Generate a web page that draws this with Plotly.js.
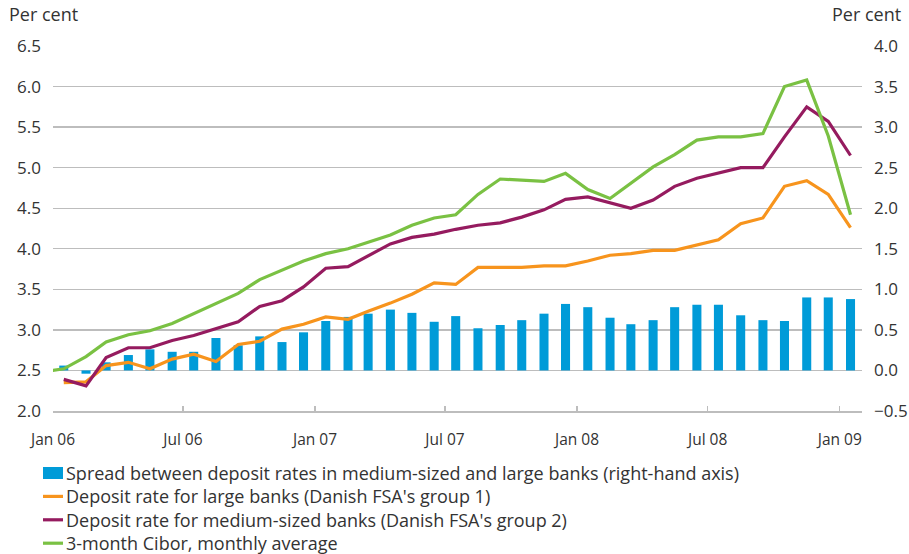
<!DOCTYPE html>
<html>
<head>
<meta charset="utf-8">
<script src="https://cdn.plot.ly/plotly-3.0.1.min.js"></script>
<style>html,body{margin:0;padding:0;background:#fff;}#chart{width:909px;height:554px;}</style>
</head>
<body>
<div id="chart"></div>
<script>
// Months (Jan 06 .. Jan 09)
const months = ['2006-01','2006-02','2006-03','2006-04','2006-05','2006-06','2006-07','2006-08','2006-09','2006-10','2006-11','2006-12',
                '2007-01','2007-02','2007-03','2007-04','2007-05','2007-06','2007-07','2007-08','2007-09','2007-10','2007-11','2007-12',
                '2008-01','2008-02','2008-03','2008-04','2008-05','2008-06','2008-07','2008-08','2008-09','2008-10','2008-11','2008-12',
                '2009-01'];
// Spread (right-hand axis), percentage points
const spread = [0.06,-0.04,0.10,0.19,0.26,0.23,0.23,0.40,0.31,0.42,0.35,0.47,
                0.61,0.66,0.70,0.75,0.71,0.60,0.67,0.52,0.56,0.62,0.70,0.82,
                0.78,0.65,0.57,0.62,0.78,0.81,0.81,0.68,0.62,0.61,0.90,0.90,
                0.88];
// Deposit rate for large banks (group 1)
const largeBanks = [2.35,2.36,2.56,2.60,2.52,2.64,2.70,2.61,2.82,2.86,3.01,3.07,
                    3.16,3.13,3.23,3.33,3.44,3.58,3.56,3.77,3.77,3.77,3.79,3.79,
                    3.85,3.92,3.94,3.98,3.98,4.05,4.11,4.31,4.38,4.77,4.84,4.67,
                    4.26];
// Deposit rate for medium-sized banks (group 2)
const mediumBanks = [2.39,2.31,2.66,2.78,2.78,2.87,2.93,3.01,3.10,3.29,3.36,3.53,
                     3.76,3.78,3.91,4.06,4.14,4.18,4.24,4.29,4.32,4.39,4.48,4.61,
                     4.64,4.57,4.50,4.60,4.77,4.87,4.93,5.00,5.00,5.38,5.75,5.57,
                     5.15];
// 3-month Cibor, monthly average (starts Dec 05, off the left edge)
const ciborMonths = ['2005-12'].concat(months);
const cibor = [2.48,
               2.52,2.67,2.85,2.94,2.99,3.08,3.20,3.33,3.45,3.62,3.74,3.85,
               3.94,4.00,4.08,4.17,4.29,4.38,4.42,4.67,4.86,4.85,4.83,4.93,
               4.73,4.62,4.81,5.01,5.16,5.34,5.38,5.38,5.42,6.00,6.08,5.39,
               4.42];
const tickDates = ['2006-01-01','2006-07-01','2007-01-01','2007-07-01','2008-01-01','2008-07-01','2009-01-01'];
const tickLabels = ['Jan 06','Jul 06','Jan 07','Jul 07','Jan 08','Jul 08','Jan 09'];
const seriesNames = ['Spread between deposit rates in medium-sized and large banks (right-hand axis)',
                     "Deposit rate for large banks (Danish FSA's group 1)",
                     "Deposit rate for medium-sized banks (Danish FSA's group 2)",
                     '3-month Cibor, monthly average'];
const seriesColors = ['#009bd8','#f7941d','#951b5f','#7ac143'];

const mid = m => m + '-16';
const FONT = 'Open Sans, Noto Sans, sans-serif';
const TXT = '#333333';
const GRID = '#bdbdbd';

// plot-area geometry (px) for placing the legend/annotations
const L = 53, R = 47, T = 46, B = 143, W = 909 - L - R, H = 554 - T - B;
const px = x => (x - L) / W;
const py = y => (554 - B - y) / H;

const traces = [
  {type:'bar', name:seriesNames[0], x: months.map(mid), y: spread, yaxis:'y',
   marker:{color:seriesColors[0]}, width: 12.6*86400000},
  {type:'scatter', mode:'lines', name:seriesNames[1], x: months.map(mid), y: largeBanks, yaxis:'y2',
   line:{color:seriesColors[1], width:3.2}},
  {type:'scatter', mode:'lines', name:seriesNames[2], x: months.map(mid), y: mediumBanks, yaxis:'y2',
   line:{color:seriesColors[2], width:3.2}},
  {type:'scatter', mode:'lines', name:seriesNames[3], x: ciborMonths.map(mid), y: cibor, yaxis:'y2',
   line:{color:seriesColors[3], width:3.2}}
];

// manual legend: one multi-line text block with swatches beside each row
const LEG_FONT = 18;
const rowGap = LEG_FONT * 1.3;
const row0 = 473;
const rowY = [0, 1, 2, 3].map(i => row0 + i * rowGap);
const shapes = [
  {type:'rect', xref:'paper', yref:'paper', x0:px(43), x1:px(63), y0:py(rowY[0]+6), y1:py(rowY[0]-6),
   fillcolor:seriesColors[0], line:{width:0}}
];
for (let i = 1; i < 4; i++) {
  shapes.push({type:'line', xref:'paper', yref:'paper', x0:px(43), x1:px(63), y0:py(rowY[i]), y1:py(rowY[i]),
               line:{color:seriesColors[i], width:3.2}});
}
const annotations = [
  {text:'Per cent', xref:'paper', yref:'paper', x:px(7), y:py(14), xanchor:'left', yanchor:'middle',
   showarrow:false, font:{family:FONT, size:18, color:TXT}},
  {text:'Per cent', xref:'paper', yref:'paper', x:px(903), y:py(14), xanchor:'right', yanchor:'middle',
   showarrow:false, font:{family:FONT, size:18, color:TXT}},
  {text:seriesNames.join('<br>'), xref:'paper', yref:'paper', x:px(65), y:py((rowY[0]+rowY[3])/2),
   xanchor:'left', yanchor:'middle', align:'left', showarrow:false, borderpad:0,
   font:{family:FONT, size:LEG_FONT, color:TXT}}
];

const layout = {
  width:909, height:554,
  margin:{l:L, r:R, t:T, b:B, autoexpand:false},
  paper_bgcolor:'#fff', plot_bgcolor:'#fff',
  font:{family:FONT, size:16, color:TXT},
  showlegend:false,
  xaxis:{type:'date', range:['2006-01-01','2009-02-01'], tickmode:'array',
         tickvals:tickDates, ticktext:tickLabels, ticks:'inside', ticklen:5, tickcolor:GRID, tickwidth:1.3,
         showgrid:false, showline:true, linecolor:GRID, linewidth:1.5, zeroline:false,
         ticklabelstandoff:14, tickfont:{family:FONT, size:15.5, color:TXT}},
  yaxis:{side:'right', range:[-0.5,4.0], dtick:0.5, tick0:0, tickformat:'.1f',
         showgrid:false, zeroline:false, ticks:'', ticklabelstandoff:11,
         tickfont:{family:FONT, size:17, color:TXT}},
  yaxis2:{overlaying:'y', side:'left', range:[2.0,6.5], dtick:0.5, tick0:2, tickformat:'.1f',
          showgrid:true, gridcolor:GRID, gridwidth:1.4, zeroline:false, ticks:'', ticklabelstandoff:11,
          tickfont:{family:FONT, size:17, color:TXT}},
  shapes: shapes,
  annotations: annotations
};

Plotly.newPlot('chart', traces, layout, {displayModeBar:false, staticPlot:true});
</script>
</body>
</html>
